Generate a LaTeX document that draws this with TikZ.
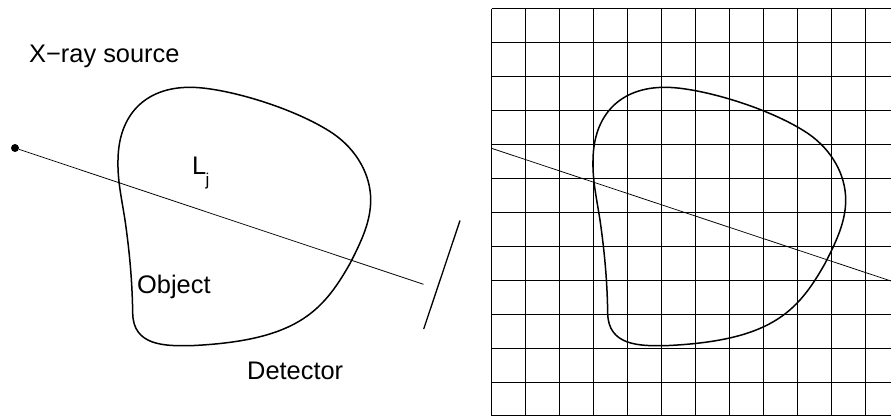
\documentclass[tikz,border=0pt]{standalone}
\usepackage{fontspec}
\setmainfont{Liberation Sans}
\tikzset{
  label text/.style={inner sep=0pt,font=\fontsize{25.4}{28}\selectfont,text=black},
  small label/.style={inner sep=0pt,font=\fontsize{17}{20}\selectfont,text=black},
  blob/.style={line width=1.5pt,black},
  ray/.style={line width=0.75pt,black},
  gridline/.style={line width=1pt,black},
  detector/.style={line width=1.3pt,black}
}
\newcommand{\blobpath}{(190,87.3) .. controls (225,87.3) and (295,108) .. (333,133.5)
 .. controls (357,150) and (370.7,175) .. (370.7,200)
 .. controls (370.7,222) and (361,242) .. (350,263.5)
 .. controls (322,313) and (295,341) .. (190,345.7)
 .. controls (165,346) and (133,346) .. (132.7,313)
 .. controls (132.3,290) and (131,262) .. (125,220)
 .. controls (121,195) and (117.5,180) .. (118,160)
 .. controls (118.5,115) and (145,87.3) .. (190,87.3) -- cycle}
\begin{document}
\begin{tikzpicture}[x=1pt,y=-1pt]
\useasboundingbox (0,0) rectangle (891,417);
% left panel
\node[circle,fill=black,inner sep=0pt,minimum size=8pt] (src) at (15,148) {};
\coordinate (rayEnd) at (423.5,284.3);
\draw[ray] (src) -- (rayEnd);
\draw[blob] \blobpath;
\coordinate (detA) at (460,220.5);
\coordinate (detB) at (423.7,329);
\draw[detector] (detA) -- (detB);
\node[label text,anchor=base west] (xray) at (29,63) {X−ray source};
\node[label text,anchor=base west] (lj) at (192,174) {L};
\node[small label,anchor=base west] (j) at (205.5,185.5) {j};
\node[label text,anchor=base west] (obj) at (137,293.5) {Object};
\node[label text,anchor=base west] (det) at (247,379) {Detector};
% right panel
\begin{scope}
\clip (480,0) rectangle (891,417);
\foreach \i in {0,...,12} {
  \draw[gridline] ({491.5+34*\i},8.7) -- ({491.5+34*\i},416);
  \draw[gridline] (491.5,{8.7+33.94*\i}) -- (891,{8.7+33.94*\i});
}
\coordinate (rayL) at (491.5,148.3);
\coordinate (rayR) at (891,281);
\draw[ray] (rayL) -- (rayR);
\begin{scope}[xshift=475pt]
\draw[blob] \blobpath;
\end{scope}
\end{scope}
\end{tikzpicture}
\end{document}
